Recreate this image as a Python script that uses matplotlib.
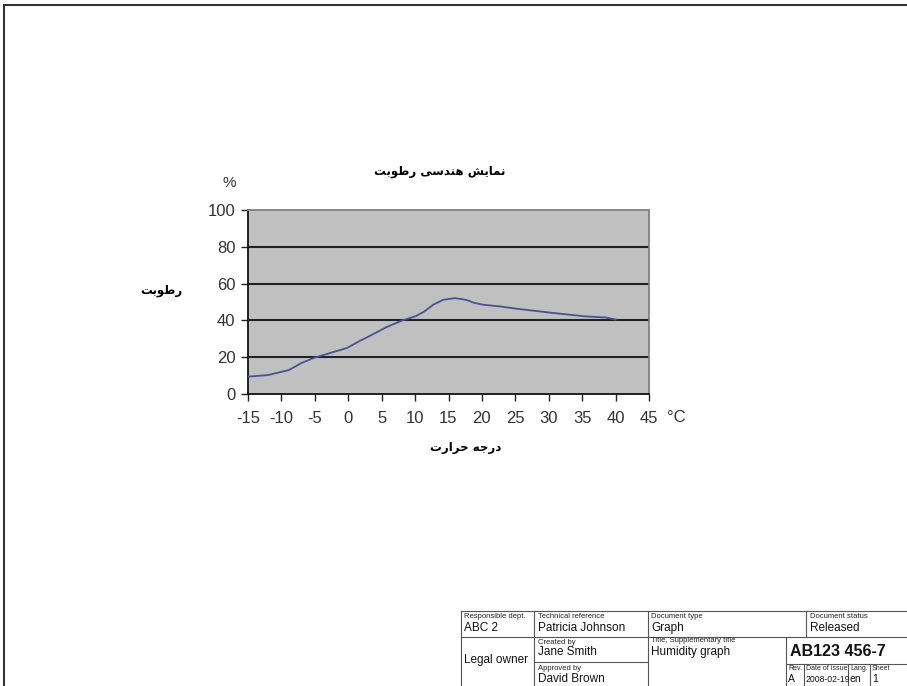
import matplotlib
matplotlib.use('Agg')
import matplotlib.pyplot as plt
from matplotlib.lines import Line2D

W, H = 907, 686

# humidity curve
temperature = [-15, -12, -8.9, -6.9, -5, -2.7, -0.2, 1.6, 3.4, 5.75, 8.1, 10.1, 11.4,
               12.7, 14.2, 16, 17.6, 18.9, 20.2, 22.7, 25.3, 27.9, 30.5, 33.1, 35.4, 38.5, 40]
humidity = [9.4, 10.3, 13, 17, 19.8, 22.3, 25, 28.6, 31.9, 36.4, 40, 42.3, 44.9,
            48.5, 51.2, 52.1, 51.2, 49.5, 48.5, 47.6, 46.3, 45.2, 44.1, 43.1, 42.2, 41.6, 40.5]
x_ticks = [-15, -10, -5, 0, 5, 10, 15, 20, 25, 30, 35, 40, 45]
y_ticks = [0, 20, 40, 60, 80, 100]

title_text = 'نمایش هندسی رطوبت'
ylabel_text = 'رطوبت'
xlabel_text = 'درجه حرارت'

# (isolated, final, initial, medial); None = letter does not join the next one
FORMS = {
    'ا': ('\uFE8D', '\uFE8E', None, None),
    'ب': ('\uFE8F', '\uFE90', '\uFE91', '\uFE92'),
    'ت': ('\uFE95', '\uFE96', '\uFE97', '\uFE98'),
    'ج': ('\uFE9D', '\uFE9E', '\uFE9F', '\uFEA0'),
    'ح': ('\uFEA1', '\uFEA2', '\uFEA3', '\uFEA4'),
    'د': ('\uFEA9', '\uFEAA', None, None),
    'ر': ('\uFEAD', '\uFEAE', None, None),
    'س': ('\uFEB1', '\uFEB2', '\uFEB3', '\uFEB4'),
    'ش': ('\uFEB5', '\uFEB6', '\uFEB7', '\uFEB8'),
    'ط': ('\uFEC1', '\uFEC2', '\uFEC3', '\uFEC4'),
    'م': ('\uFEE1', '\uFEE2', '\uFEE3', '\uFEE4'),
    'ن': ('\uFEE5', '\uFEE6', '\uFEE7', '\uFEE8'),
    'ه': ('\uFEE9', '\uFEEA', '\uFEEB', '\uFEEC'),
    'و': ('\uFEED', '\uFEEE', None, None),
    'ی': ('\uFEEF', '\uFEF0', '\uFEF3', '\uFEF4'),
}


def shape(text):
    # simple arabic shaping + visual (right to left) order
    out = []
    for i, ch in enumerate(text):
        if ch not in FORMS:
            out.append(ch)
            continue
        prev = text[i - 1] if i > 0 else None
        nxt = text[i + 1] if i < len(text) - 1 else None
        join_prev = prev in FORMS and FORMS[prev][2] is not None
        join_next = nxt in FORMS and FORMS[ch][2] is not None
        iso, fin, ini, med = FORMS[ch]
        if join_prev and join_next:
            out.append(med)
        elif join_prev:
            out.append(fin)
        elif join_next:
            out.append(ini)
        else:
            out.append(iso)
    return ''.join(out)[::-1]


def fx(px):
    return px / W


def fy(py):
    return 1 - py / H


plt.rcParams['font.family'] = ['Liberation Sans', 'DejaVu Sans']

fig = plt.figure(figsize=(W / 100, H / 100), dpi=100)
fig.patch.set_facecolor('white')

# page frame
fig.add_artist(Line2D([fx(4), fx(4)], [fy(5), 0], color='#333333', lw=1.5))
fig.add_artist(Line2D([fx(4), 1], [fy(5), fy(5)], color='#333333', lw=1.5))

ax = fig.add_axes([fx(248), fy(394), fx(649) - fx(248), fy(210) - fy(394)])
ax.set_facecolor('#c0c0c0')
ax.plot(temperature, humidity, color='#4f4f94', lw=1.3, zorder=3)
ax.set_xlim(-15, 45)
ax.set_ylim(0, 100)
ax.set_xticks(x_ticks)
ax.set_yticks(y_ticks)
ax.set_xticklabels([str(t) for t in x_ticks])
ax.set_yticklabels([str(t) for t in y_ticks])
for v in y_ticks[1:-1]:
    ax.axhline(v, color='#222222', lw=1.5, zorder=2)
ax.tick_params(direction='out', length=5, width=1, colors='#222222', labelsize=12,
               labelcolor='#333333')
ax.tick_params(axis='x', pad=7)
ax.tick_params(axis='y', pad=4)
ax.spines['left'].set_color('#111111')
ax.spines['bottom'].set_color('#111111')
ax.spines['top'].set_color('#808080')
ax.spines['right'].set_color('#808080')
for s in ax.spines.values():
    s.set_linewidth(1.3)

fig.text(fx(440), fy(172), shape(title_text), family='DejaVu Sans', weight='bold',
         fontsize=8.5, ha='center', va='center')
fig.text(fx(229), fy(183), '%', fontsize=11, ha='center', va='center', color='#333333')
fig.text(fx(161), fy(290), shape(ylabel_text), family='DejaVu Sans', weight='bold',
         fontsize=8.5, ha='center', va='center')
fig.text(fx(466), fy(448), shape(xlabel_text), family='DejaVu Sans', weight='bold',
         fontsize=8.5, ha='center', va='center')
fig.text(fx(676), fy(418), '°C', fontsize=12, ha='center', va='center', color='#333333')

# title block in the bottom right corner
tb_color = '#555555'
h_lines = [(611, 461, W), (637, 461, W), (662, 534, 648), (664, 786, W)]
v_lines = [(461, 611, H), (534, 611, H), (648, 611, H), (806, 611, 637),
           (786, 637, H), (804, 664, H), (848, 664, H), (870, 664, H)]
for y, x0, x1 in h_lines:
    fig.add_artist(Line2D([fx(x0), fx(x1)], [fy(y), fy(y)], color=tb_color, lw=0.8))
for x, y0, y1 in v_lines:
    fig.add_artist(Line2D([fx(x), fx(x)], [fy(y0), fy(y1)], color=tb_color, lw=0.8))

small_labels = [
    (464, 617, 'Responsible dept.'), (538, 617, 'Technical reference'),
    (651, 617, 'Document type'), (810, 617, 'Document status'),
    (538, 642, 'Created by'), (538, 668, 'Approved by'),
    (651, 641, 'Title, Supplementary title'),
]
for x, y, t in small_labels:
    fig.text(fx(x), fy(y), t, fontsize=5.5, ha='left', va='center', color='#222222')

rev_labels = [(788, 669, 'Rev.'), (806, 669, 'Date of issue'), (850, 669, 'Lang.'),
              (872, 669, 'Sheet')]
for x, y, t in rev_labels:
    fig.text(fx(x), fy(y), t, fontsize=5, ha='left', va='center', color='#222222')

values = [
    (464, 628, 'ABC 2'), (538, 628, 'Patricia Johnson'), (651, 628, 'Graph'),
    (810, 628, 'Released'), (464, 660, 'Legal owner'), (538, 652, 'Jane Smith'),
    (538, 679, 'David Brown'), (651, 652, 'Humidity graph'),
]
for x, y, t in values:
    fig.text(fx(x), fy(y), t, fontsize=8.5, ha='left', va='center', color='#111111')

rev_values = [(788, 679, 'A', 7.5), (806, 679, '2008-02-19', 6.2),
              (850, 679, 'en', 7.5), (872, 679, '1', 7.5)]
for x, y, t, size in rev_values:
    fig.text(fx(x), fy(y), t, fontsize=size, ha='left', va='center', color='#111111')

fig.text(fx(838), fy(652), 'AB123 456-7', fontsize=11.5, weight='bold',
         ha='center', va='center', color='#111111')

fig.savefig('out.png', dpi=100)
